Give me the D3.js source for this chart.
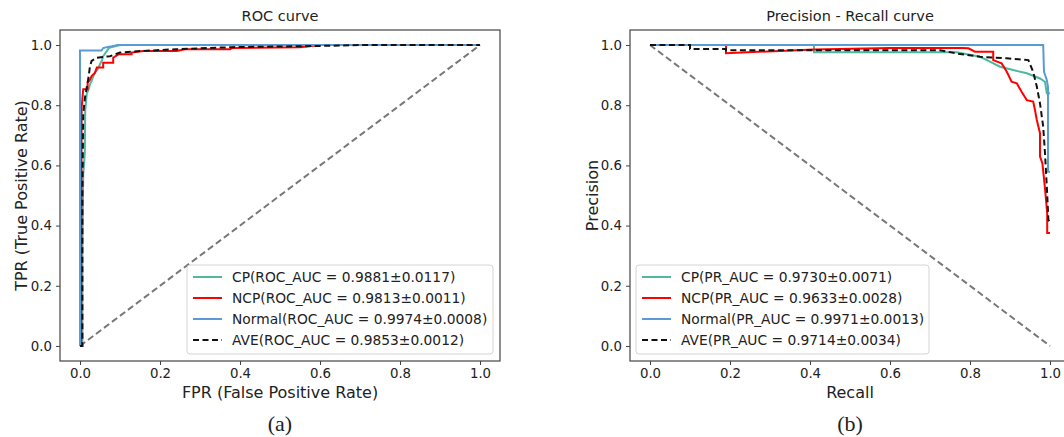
<!DOCTYPE html>
<html>
<head>
<meta charset="utf-8">
<script src="https://cdn.jsdelivr.net/npm/d3@7"></script>
<style>
  body { margin: 0; background: #fff; }
  text { font-family: "DejaVu Sans", sans-serif; fill: #222; }
</style>
</head>
<body>
<div id="chart"></div>
<script>
// series names / legend labels
var seriesNames = ["CP", "NCP", "Normal", "AVE"]
var rocLabels = [
  "CP(ROC_AUC = 0.9881\u00b10.0117)",
  "NCP(ROC_AUC = 0.9813\u00b10.0011)",
  "Normal(ROC_AUC = 0.9974\u00b10.0008)",
  "AVE(ROC_AUC = 0.9853\u00b10.0012)"
]
var prLabels = [
  "CP(PR_AUC = 0.9730\u00b10.0071)",
  "NCP(PR_AUC = 0.9633\u00b10.0028)",
  "Normal(PR_AUC = 0.9971\u00b10.0013)",
  "AVE(PR_AUC = 0.9714\u00b10.0034)"
]
var tickValues = [0, 0.2, 0.4, 0.6, 0.8, 1.0]

// ROC curves: [fpr, tpr]
var rocCP = [[0,0],[0.006,0],[0.006,0.3],[0.008,0.57],[0.012,0.64],[0.013,0.78],[0.017,0.84],[0.021,0.85],[0.025,0.87],[0.029,0.881],[0.033,0.895],[0.0375,0.908],[0.044,0.92],[0.05,0.936],[0.055,0.95],[0.058,0.963],[0.067,0.98],[0.073,0.991],[0.1,1],[1,1]]
var rocNCP = [[0,0],[0.003,0],[0.003,0.2],[0.004,0.79],[0.008,0.853],[0.019,0.853],[0.019,0.875],[0.025,0.885],[0.029,0.897],[0.0375,0.908],[0.042,0.925],[0.058,0.925],[0.058,0.941],[0.083,0.941],[0.083,0.958],[0.096,0.969],[0.129,0.969],[0.129,0.975],[0.158,0.98],[0.242,0.98],[0.2625,0.986],[0.375,0.986],[0.38,0.99],[0.55,0.993],[0.6,1],[1,1]]
var rocNormal = [[0,0],[0,0.982],[0.054,0.982],[0.058,0.99],[0.067,0.993],[0.08,0.996],[0.095,1],[1,1]]
var rocAVE = [[0,0],[0.006,0],[0.006,0.5],[0.008,0.77],[0.0125,0.825],[0.021,0.891],[0.025,0.93],[0.029,0.947],[0.042,0.958],[0.075,0.963],[0.1,0.975],[0.15,0.98],[0.24,0.986],[0.38,0.993],[0.6,0.997],[0.7,1],[1,1]]

// PR curves: [recall, precision]
var prCP = [[0,1],[0.41,1],[0.41,0.976],[0.5,0.976],[0.6,0.976],[0.767,0.976],[0.825,0.961],[0.85,0.945],[0.875,0.928],[0.908,0.917],[0.942,0.906],[0.975,0.889],[0.9875,0.878],[0.992,0.84],[1,0.84]]
var prNCP = [[0,1],[0.19,1],[0.19,0.973],[0.41,0.985],[0.6,0.99],[0.78,0.99],[0.796,0.989],[0.8125,0.978],[0.858,0.978],[0.858,0.95],[0.879,0.939],[0.892,0.911],[0.904,0.878],[0.917,0.873],[0.929,0.845],[0.942,0.817],[0.958,0.812],[0.9625,0.784],[0.967,0.751],[0.975,0.707],[0.975,0.629],[0.981,0.607],[0.9875,0.524],[0.993,0.441],[0.993,0.375],[1,0.375]]
var prNormal = [[0,1],[0.983,1],[0.985,0.911],[0.992,0.884],[0.995,0.86],[0.995,0.579],[1,0.579]]
var prAVE = [[0,1],[0.1,1],[0.1,0.987],[0.19,0.987],[0.19,0.983],[0.725,0.983],[0.767,0.972],[0.825,0.961],[0.892,0.956],[0.946,0.95],[0.958,0.911],[0.967,0.862],[0.975,0.806],[0.983,0.729],[0.9875,0.64],[0.992,0.53],[0.996,0.419],[1,0.41]]

// chance lines
var rocChance = [[0,0],[1,1]]
var prChance = [[0,1],[1,0]]

var colors = ["#4fb99f", "#ff0000", "#5a9bd5", "#111111"]
var dashes = [null, null, null, "6,3.5"]

var svg = d3.select("#chart").append("svg")
  .attr("width", 1064)
  .attr("height", 437)

function drawPanel(opt) {
  var x = d3.scaleLinear().domain([-0.05, 1.05]).range([opt.left, opt.right])
  var y = d3.scaleLinear().domain([-0.05, 1.05]).range([opt.bottom, opt.top])
  var g = svg.append("g")

  var line = d3.line()
    .x(function (d) { return x(d[0]) })
    .y(function (d) { return y(d[1]) })

  // chance diagonal
  g.append("path")
    .attr("d", line(opt.chance))
    .attr("fill", "none")
    .attr("stroke", "#777")
    .attr("stroke-width", 2)
    .attr("stroke-dasharray", "6.5,3.5")

  opt.series.forEach(function (s, i) {
    g.append("path")
      .attr("d", line(s))
      .attr("fill", "none")
      .attr("stroke", colors[i])
      .attr("stroke-width", 2)
      .attr("stroke-dasharray", dashes[i])
  })

  // axes
  var xAxis = g.append("g")
    .attr("transform", "translate(0," + opt.bottom + ")")
    .call(d3.axisBottom(x).tickValues(tickValues).tickFormat(d3.format(".1f")).tickSize(4).tickPadding(4))
  var yAxis = g.append("g")
    .attr("transform", "translate(" + opt.left + ",0)")
    .call(d3.axisLeft(y).tickValues(tickValues).tickFormat(d3.format(".1f")).tickSize(4).tickPadding(4))
  ;[xAxis, yAxis].forEach(function (a) {
    a.select(".domain").remove()
    a.selectAll("line").attr("stroke", "#444").attr("stroke-width", 1)
    a.selectAll("text").style("font-size", "13.3px").style("font-family", "DejaVu Sans").attr("fill", "#222")
  })

  // frame
  g.append("rect")
    .attr("x", opt.left).attr("y", opt.top)
    .attr("width", opt.right - opt.left).attr("height", opt.bottom - opt.top)
    .attr("fill", "none").attr("stroke", "#444").attr("stroke-width", 1.2)

  var cx = (opt.left + opt.right) / 2
  var cy = (opt.top + opt.bottom) / 2
  g.append("text").attr("x", cx).attr("y", 21).attr("text-anchor", "middle")
    .style("font-size", "14.5px").text(opt.title)
  g.append("text").attr("x", cx).attr("y", 398).attr("text-anchor", "middle")
    .style("font-size", "16px").text(opt.xlabel)
  g.append("text").attr("transform", "translate(" + opt.ylabelX + "," + cy + ") rotate(-90)")
    .attr("text-anchor", "middle").style("font-size", "16px").text(opt.ylabel)
  g.append("text").attr("x", cx).attr("y", 431).attr("text-anchor", "middle")
    .style("font-family", "Liberation Serif, serif").style("font-size", "22px").text(opt.tag)

  // legend
  var lg = g.append("g").attr("transform", "translate(" + opt.legend[0] + "," + opt.legend[1] + ")")
  lg.append("rect")
    .attr("width", opt.legend[2]).attr("height", 89).attr("rx", 3)
    .attr("fill", "#fff").attr("fill-opacity", 0.85)
    .attr("stroke", "#d4d4d4").attr("stroke-width", 1)
  opt.labels.forEach(function (lab, i) {
    var yy = 12 + i * 21
    lg.append("line")
      .attr("x1", 6).attr("x2", 35).attr("y1", yy).attr("y2", yy)
      .attr("stroke", colors[i]).attr("stroke-width", 2)
      .attr("stroke-dasharray", dashes[i])
    lg.append("text").attr("x", 45).attr("y", yy + 5)
      .style("font-size", "13.8px").text(lab)
  })
}

drawPanel({
  left: 60, right: 500, top: 30, bottom: 361,
  series: [rocCP, rocNCP, rocNormal, rocAVE],
  chance: rocChance,
  title: "ROC curve",
  xlabel: "FPR (False Positive Rate)",
  ylabel: "TPR (True Positive Rate)",
  ylabelX: 27,
  tag: "(a)",
  labels: rocLabels,
  legend: [187, 265, 306]
})

drawPanel({
  left: 630, right: 1070, top: 30, bottom: 361,
  series: [prCP, prNCP, prNormal, prAVE],
  chance: prChance,
  title: "Precision - Recall curve",
  xlabel: "Recall",
  ylabel: "Precision",
  ylabelX: 598,
  tag: "(b)",
  labels: prLabels,
  legend: [636, 265, 293]
})
</script>
</body>
</html>
